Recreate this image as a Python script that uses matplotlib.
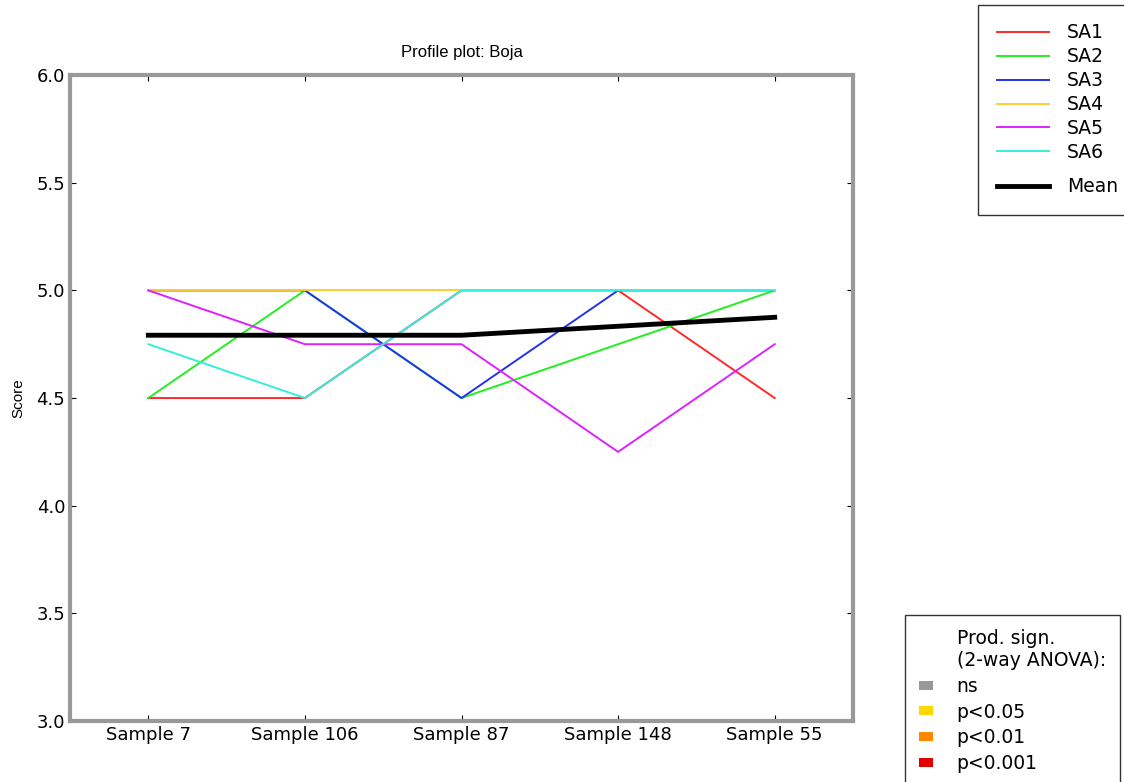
import numpy as np
import matplotlib
matplotlib.use("Agg")
import matplotlib.pyplot as plt
from matplotlib.patches import Patch

# Profile plot data (scores per assessor and sample)
samples = ["Sample 7", "Sample 106", "Sample 87", "Sample 148", "Sample 55"]
sa1 = [4.5, 4.5, 5.0, 5.0, 4.5]
sa2 = [4.5, 5.0, 4.5, 4.75, 5.0]
sa3 = [5.0, 5.0, 4.5, 5.0, 5.0]
sa4 = [5.0, 5.0, 5.0, 5.0, 5.0]
sa5 = [5.0, 4.75, 4.75, 4.25, 4.75]
sa6 = [4.75, 4.5, 5.0, 5.0, 5.0]
assessors = ["SA1", "SA2", "SA3", "SA4", "SA5", "SA6"]
sig_labels = ["ns", "p<0.05", "p<0.01", "p<0.001"]

colors = ["#ff2a2a", "#22ee22", "#2233ee", "#ffcc33", "#dd22ff", "#33eedd"]
sig_colors = ["#999999", "#ffd700", "#ff8800", "#e00000"]

series = [sa1, sa2, sa3, sa4, sa5, sa6]
mean = np.mean(np.array(series), axis=0)

fig = plt.figure(figsize=(11.24, 7.82), dpi=100)
ax = fig.add_axes([0.0623, 0.078, 0.6966, 0.826])

x = np.arange(len(samples))
for vals, name, c in zip(series, assessors, colors):
    ax.plot(x, vals, color=c, lw=1.4, label=name)
ax.plot(x, mean, color="black", lw=3.5, label="Mean")

ax.set_xlim(-0.5, len(samples) - 0.5)
ax.set_ylim(3.0, 6.0)
ax.set_yticks(np.arange(3.0, 6.01, 0.5))
ax.set_xticks(x)
ax.set_xticklabels(samples, fontsize=13.8)
ax.tick_params(direction="in", top=True, right=True, length=4, labelsize=13)

for sp in ax.spines.values():
    sp.set_color("#999999")
    sp.set_linewidth(3)

ax.set_title("Profile plot: Boja", fontsize=12, family="Liberation Sans", pad=13)
ax.set_ylabel("Score", fontsize=11, family="Liberation Sans", labelpad=8)

handles, labels = ax.get_legend_handles_labels()
leg1 = fig.legend(handles, labels, loc="upper left", bbox_to_anchor=(0.870, 0.994),
                  borderaxespad=0, fontsize=13.5, frameon=True, fancybox=False,
                  edgecolor="black", handlelength=2.8, labelspacing=0.26,
                  borderpad=1.0, handletextpad=0.95)
leg1.get_frame().set_linewidth(1.0)
# extra room above the Mean row
rows = leg1._legend_handle_box.get_children()[0].get_children()
rows[-1].get_children()[0].height += 9

# significance legend; the title is a row without a swatch so it lines up with the labels
sig_handles = [Patch(facecolor="none", edgecolor="none")]
sig_handles += [Patch(facecolor=c, edgecolor="none") for c in sig_colors]
leg2 = fig.legend(sig_handles, ["Prod. sign.\n(2-way ANOVA):"] + sig_labels,
                  loc="upper left", bbox_to_anchor=(0.8052, 0.2136), borderaxespad=0,
                  fontsize=13.5, frameon=True, fancybox=False, edgecolor="black",
                  handlelength=0.75, handleheight=0.37, labelspacing=0.36,
                  borderpad=0.75, handletextpad=1.25)
leg2.get_frame().set_linewidth(1.0)

fig.savefig("out.png", dpi=100)
